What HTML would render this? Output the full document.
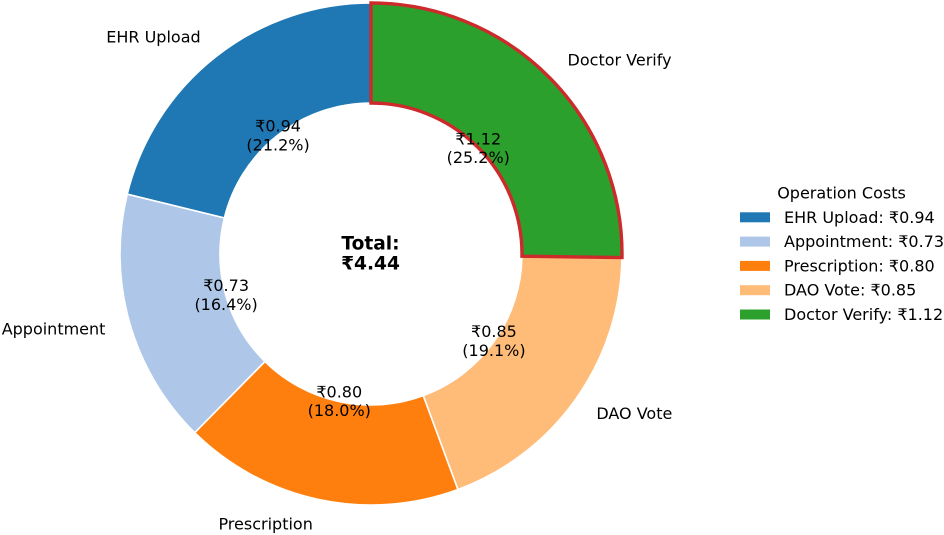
<!DOCTYPE html>
<html lang="en">
<head>
<meta charset="utf-8">
<title>Operation Costs Donut Chart</title>
<style>
html,body{margin:0;padding:0;background:#fff;}
body{width:944px;height:535px;overflow:hidden;}
svg{display:block;}
text{font-family:"DejaVu Sans","Liberation Sans",sans-serif;fill:#000;}
</style>
</head>
<body>
<svg id="chart" xmlns="http://www.w3.org/2000/svg" width="944" height="535" viewBox="0 0 944 535"></svg>
<script>
const categories = ["EHR Upload", "Appointment", "Prescription", "DAO Vote", "Doctor Verify"];
const costs = [0.94, 0.73, 0.80, 0.85, 1.12];
const sliceColors = ["#1f77b4", "#aec7e8", "#ff7f0e", "#ffbb78", "#2ca02c"];
const highlightedCategory = "Doctor Verify";
const legendTitle = "Operation Costs";
const currency = "\u20B9";

const NS = "http://www.w3.org/2000/svg";
const svg = document.getElementById("chart");
const cx = 371, cy = 254, outerR = 251, innerR = 151;
const total = costs.reduce(function (a, b) { return a + b; }, 0);

function angleOf(cumulative) {
  return Math.PI / 2 + (cumulative / total) * 2 * Math.PI;
}
function px(r, a) { return cx + r * Math.cos(a); }
function py(r, a) { return cy - r * Math.sin(a); }
function slug(s) { return s.toLowerCase().replace(/\s+/g, "-"); }

function addText(parent, x, y, str, size, anchor, weight) {
  const t = document.createElementNS(NS, "text");
  t.setAttribute("x", x.toFixed(2));
  t.setAttribute("y", y.toFixed(2));
  t.setAttribute("font-size", size);
  t.setAttribute("text-anchor", anchor);
  t.setAttribute("dominant-baseline", "central");
  if (weight) t.setAttribute("font-weight", weight);
  t.textContent = str;
  parent.appendChild(t);
  return t;
}

function arcPath(a0, a1) {
  const large = (a1 - a0) > Math.PI ? 1 : 0;
  return "M" + px(outerR, a0).toFixed(2) + " " + py(outerR, a0).toFixed(2) +
    " A" + outerR + " " + outerR + " 0 " + large + " 0 " + px(outerR, a1).toFixed(2) + " " + py(outerR, a1).toFixed(2) +
    " L" + px(innerR, a1).toFixed(2) + " " + py(innerR, a1).toFixed(2) +
    " A" + innerR + " " + innerR + " 0 " + large + " 1 " + px(innerR, a0).toFixed(2) + " " + py(innerR, a0).toFixed(2) + " Z";
}

const sliceLayer = document.createElementNS(NS, "g");


svg.appendChild(sliceLayer);

const labelLayer = document.createElementNS(NS, "g");


svg.appendChild(labelLayer);

let cumulative = 0;
categories.forEach(function (name, i) {
  const a0 = angleOf(cumulative);
  const a1 = angleOf(cumulative + costs[i]);
  const mid = (a0 + a1) / 2;
  cumulative += costs[i];
  const highlighted = name === highlightedCategory;

  const p = document.createElementNS(NS, "path");
  p.setAttribute("d", arcPath(a0, a1));
  p.setAttribute("fill", sliceColors[i]);
  p.setAttribute("stroke", highlighted ? "#cc2a2b" : "#ffffff");
  p.setAttribute("stroke-width", highlighted ? 3.4 : 1.6);
  p.setAttribute("stroke-linejoin", "miter");
  
  
  sliceLayer.appendChild(p);

  const lx = px(276, mid), ly = py(276, mid);
  const outer = addText(labelLayer, lx, ly, name, 16, Math.cos(mid) > 0 ? "start" : "end");
  
  

  const vx = px(150.6, mid), vy = py(150.6, mid);
  const v = addText(labelLayer, vx, vy - 9.3, currency + costs[i].toFixed(2), 16, "middle");
  
  
  const pctLabel = addText(labelLayer, vx, vy + 9.3, "(" + (costs[i] / total * 100).toFixed(1) + "%)", 16, "middle");
  
  
});

const totalLabel = addText(labelLayer, 370.5, 244, "Total:", 18.6, "middle", "bold");


const totalValue = addText(labelLayer, 370.5, 264, currency + total.toFixed(2), 18.6, "middle", "bold");



const legend = document.createElementNS(NS, "g");


svg.appendChild(legend);

const titleEl = addText(legend, 841.5, 193, legendTitle, 16, "middle");



categories.forEach(function (name, i) {
  const rowY = 217.3 + i * 24.3;
  const r = document.createElementNS(NS, "rect");
  r.setAttribute("x", 740);
  r.setAttribute("y", (rowY - 5).toFixed(2));
  r.setAttribute("width", 30);
  r.setAttribute("height", 10);
  r.setAttribute("fill", sliceColors[i]);
  
  
  legend.appendChild(r);
  const t = addText(legend, 784, rowY, name + ": " + currency + costs[i].toFixed(2), 16, "start");
  
  
});
</script>
</body>
</html>
